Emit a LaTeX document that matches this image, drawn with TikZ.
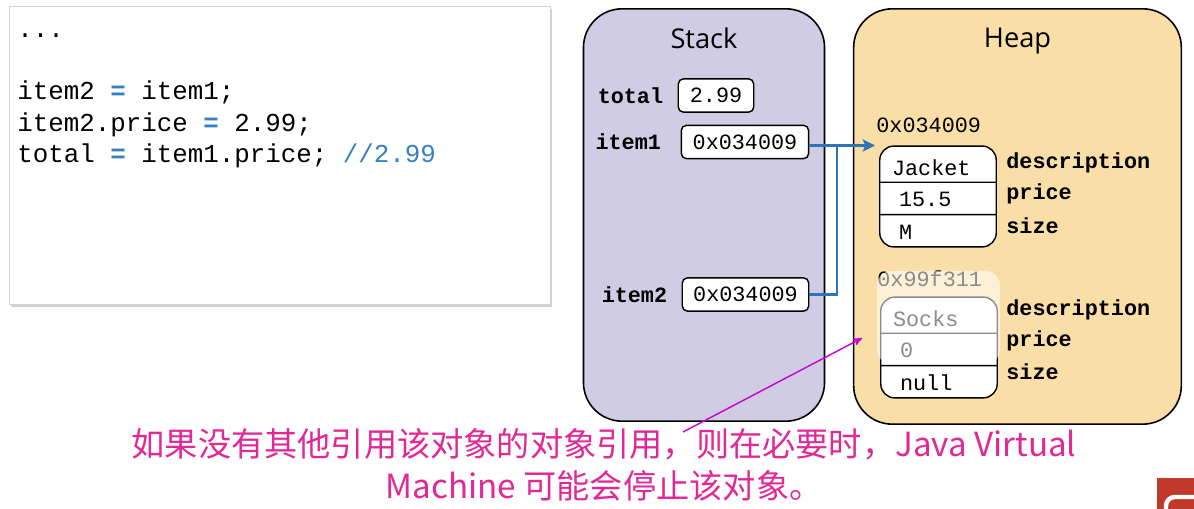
\documentclass[tikz,border=0pt]{standalone}
\usepackage{fontspec}
\setmainfont{Open Sans}
\newfontfamily\codefont{Liberation Mono}
\newfontfamily\cjkfont{Noto Sans CJK SC}
\usepackage{tikz}
\usetikzlibrary{shapes,arrows,arrows.meta,positioning,shadows}
\definecolor{stackfill}{RGB}{208,204,228}
\definecolor{heapfill}{RGB}{250,222,168}
\definecolor{refblue}{RGB}{46,117,182}
\definecolor{codeblue}{RGB}{52,128,196}
\definecolor{notemag}{RGB}{200,0,210}
\definecolor{capmag}{RGB}{226,40,150}
\definecolor{badge}{RGB}{192,57,43}
\newcommand{\topstrut}{\rule[-3.4pt]{0pt}{19.8pt}}
\newcommand{\cellstrut}{\rule[-4pt]{0pt}{17.6pt}}
\newcommand{\blueeq}{\textcolor{codeblue}{\bfseries =}}
\tikzset{%
codepanel/.style={draw=gray!35, fill=white, minimum width=307.8pt, minimum height=169.5pt, drop shadow={shadow xshift=1pt, shadow yshift=-1.2pt, opacity=0.35}},
codeline/.style={anchor=base west, inner sep=0pt, font=\codefont\fontsize{14.7}{17}\selectfont},
panel/.style={draw=black, line width=0.9pt, rounded corners=22pt},
paneltitle/.style={inner sep=0pt, font=\fontsize{15.5}{18}\selectfont},
valbox/.style={draw, fill=white, thick, rounded corners=3pt, minimum height=19pt, inner sep=0pt, font=\codefont\fontsize{12.4}{14}\selectfont},
varname/.style={inner sep=0pt, font=\codefont\bfseries\fontsize{12.4}{14}\selectfont},
objbox/.style={rectangle split, rectangle split parts=3, draw, fill=white, thick, rounded corners=8pt, text width=52.3pt, align=left, inner xsep=7pt, inner ysep=0pt, font=\codefont\fontsize{12.4}{14}\selectfont},
addr/.style={inner sep=0pt, font=\codefont\fontsize{12.4}{14}\selectfont},
refline/.style={draw=refblue, line width=1.5pt, >={Stealth[length=7pt, width=7pt, inset=1.5pt]}},
noteline/.style={draw=notemag, line width=0.8pt, >=stealth'},
caption/.style={align=center, text=capmag, inner sep=0pt, font=\cjkfont\fontsize{18.9}{23.8}\selectfont}
}
\begin{document}
\begin{tikzpicture}[x=0.02cm, y=-0.02cm, node distance=9pt]
	\useasboundingbox (0,0) rectangle (1194,509);
	% code listing
	\node[codepanel] (code) at (279.5,155.5) {};
	\node[codeline] (dots) at (17,38) {...};
	\node[codeline] (line1) at (17,100) {item2 \blueeq{} item1;};
	\node[codeline] (line2) at (17,131.5) {item2.price \blueeq{} 2.99;};
	\node[codeline] (line3) at (17,163) {total \blueeq{} item1.price; \textcolor{codeblue}{//2.99}};

	% stack and heap
	\node[panel, fill=stackfill, minimum width=137.2pt, minimum height=234.7pt] (stack) at (704,215) {};
	\node[panel, fill=heapfill, minimum width=186.5pt, minimum height=236.4pt] (heap) at (1017.5,216.5) {};
	\node[paneltitle, below=11pt of stack.north] (stacktitle) {Stack};
	\node[paneltitle, below=11pt of heap.north] (heaptitle) {Heap};

	\node[valbox, minimum width=43pt] (total) at (716,95.5) {2.99};
	\node[valbox, minimum width=72.5pt] (item1) at (745,142) {0x034009};
	\node[valbox, minimum width=72pt] (item2) at (745.5,294.5) {0x034009};
	\node[varname, left=8pt of total] (totalname) {total};
	\node[varname, left=11pt of item1] (item1name) {item1};
	\node[varname, left=8pt of item2] (item2name) {item2};

	\node[objbox] (jacket) at (938,196.5) {\topstrut Jacket \nodepart{two}\cellstrut\hspace{4pt}15.5 \nodepart{three}\cellstrut\hspace{4pt}M};
	\node[objbox] (socks) at (939,347.5) {\topstrut Socks \nodepart{two}\cellstrut\hspace{4pt}0 \nodepart{three}\cellstrut\hspace{4pt}null};
	\node[addr, anchor=base west] (jaddr) at ([xshift=-1.7pt, yshift=7.3pt]jacket.north west) {0x034009};
	\node[addr, anchor=base west] (saddr) at ([xshift=-1.7pt, yshift=5.7pt]socks.north west) {0x99f311};
	% unreferenced object is faded
	\fill[white, opacity=0.55, rounded corners=8pt] (877,271) rectangle (1000,364);

	\foreach \f/\y in {description/163, price/194, size/226}
		\node[varname, anchor=west] (j\f) at (1006,\y) {\f};
	\foreach \f/\y in {description/310, price/341, size/372}
		\node[varname, anchor=west] (s\f) at (1006,\y) {\f};

	% references
	\coordinate (join) at (837,145.5);
	\coordinate (jin) at (875,145.5);
	\draw[refline, ->] ([yshift=-2pt]item1.east) -- (jin);
	\draw[refline] (item2.east) -| (join);

	% note
	\node[caption] (msg) at (604,465) {如果没有其他引用该对象的对象引用，则在必要时，Java Virtual\\Machine 可能会停止该对象。};
	\coordinate (tail) at (683,432);
	\draw[noteline, ->] (tail) -- ([xshift=-10.2pt, yshift=5.4pt]socks.west);

	% corner badge
	\fill[badge] (1157,478) rectangle (1194,509);
	\draw[white, line width=2.5pt, rounded corners=5pt] (1166,515) -- (1166,497) -- (1200,497);
\end{tikzpicture}
\end{document}
